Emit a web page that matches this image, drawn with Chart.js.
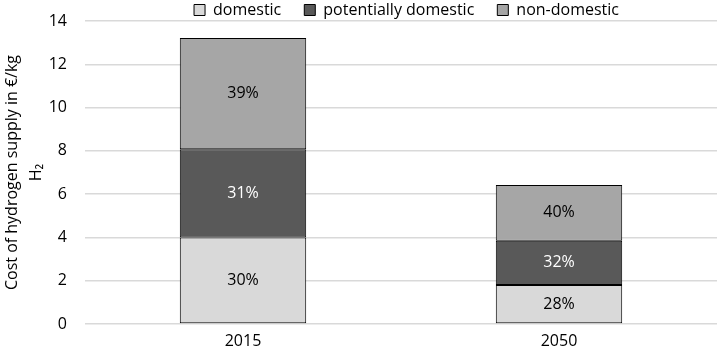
<!DOCTYPE html>
<html><head><meta charset="utf-8">
<script src="https://cdn.jsdelivr.net/npm/chart.js@4"></script>
<style>html,body{margin:0;padding:0;background:#fff}#w{width:718px;height:355px}</style>
</head><body><div id="w"><canvas id="c"></canvas></div>
<script>
const categories = ["2015", "2050"];
const domestic = [4.0, 1.8];
const potentiallyDomestic = [4.07, 2.05];
const nonDomestic = [5.15, 2.57];
const yTicks = [0, 2, 4, 6, 8, 10, 12, 14];

const FONT = "'Open Sans', 'DejaVu Sans', sans-serif";

const labelPlugin = {
  id: 'pct',
  afterDatasetsDraw(chart) {
    const ctx = chart.ctx;
    ctx.save();
    ctx.font = "16px " + FONT;
    ctx.textAlign = 'center';
    ctx.textBaseline = 'middle';
    chart.data.datasets.forEach((ds, di) => {
      const meta = chart.getDatasetMeta(di);
      meta.data.forEach((bar, i) => {
        const total = chart.data.datasets.reduce((s, d) => s + d.data[i], 0);
        const pct = Math.round(ds.data[i] / total * 100) + '%';
        ctx.fillStyle = ds.labelColor;
        ctx.fillText(pct, bar.x, (bar.y + bar.base) / 2);
      });
    });
    ctx.restore();
  }
};

const legendFix = {
  id: 'legendFix',
  afterInit(chart) {
    const lg = chart.legend;
    const fit = lg.fit.bind(lg);
    lg.fit = function () { fit(); this.height = 21; };
    const draw = lg.draw.bind(lg);
    lg.draw = function () {
      const s = {t: this.top, b: this.bottom, l: this.left, r: this.right};
      this.top = -21; this.bottom = 21; this.left += 48; this.right += 48;
      draw();
      this.top = s.t; this.bottom = s.b; this.left = s.l; this.right = s.r;
    };
  }
};

new Chart(document.getElementById('c'), {
  type: 'bar',
  data: {
    labels: categories,
    datasets: [
      {label: 'domestic', data: domestic, backgroundColor: '#d9d9d9', labelColor: '#000'},
      {label: 'potentially domestic', data: potentiallyDomestic, backgroundColor: '#595959', labelColor: '#fff'},
      {label: 'non-domestic', data: nonDomestic, backgroundColor: '#a6a6a6', labelColor: '#000'}
    ].map(d => Object.assign(d, {borderColor: '#000', borderWidth: 1, borderSkipped: false, categoryPercentage: 1, barPercentage: 0.4}))
  },
  options: {
    responsive: true,
    maintainAspectRatio: false,
    animation: false,
    layout: {padding: {top: 0, right: 1, bottom: 0, left: 0}},
    plugins: {
      legend: {
        position: 'top',
        labels: {boxWidth: 11, boxHeight: 11, font: {size: 16, family: FONT}, color: '#000', padding: 23,
          generateLabels(chart) {
            return chart.data.datasets.map((d, i) => ({text: d.label, fillStyle: d.backgroundColor, strokeStyle: '#000', lineWidth: 1, datasetIndex: i, fontColor: '#000'}));
          }
        }
      },
      tooltip: {enabled: false}
    },
    scales: {
      x: {
        stacked: true,
        afterFit(scale) { scale.height = 31; },
        grid: {display: false, drawTicks: false},
        border: {display: false},
        ticks: {font: {size: 16, family: FONT}, color: '#000', padding: 7.4}
      },
      y: {
        stacked: true,
        min: 0, max: 14,
        afterBuildTicks(scale) { scale.ticks = yTicks.map(v => ({value: v})); },
        afterFit(scale) { scale.width = 85; scale.paddingTop = 0; scale.paddingBottom = 0; },
        grid: {color: '#d9d9d9', lineWidth: 1.5, drawTicks: false},
        border: {display: false},
        ticks: {font: {size: 16, family: FONT}, color: '#000', padding: 18},
        title: {display: true, text: ['Cost of hydrogen supply in €/kg', 'H₂'], font: {size: 16, family: FONT, lineHeight: 1.5}, color: '#000', padding: 0}
      }
    }
  },
  plugins: [labelPlugin, legendFix]
});
</script></body></html>
